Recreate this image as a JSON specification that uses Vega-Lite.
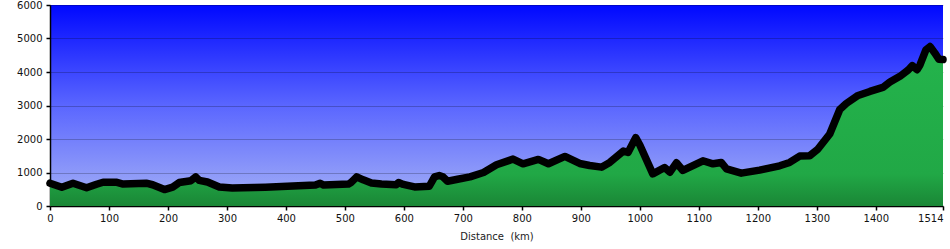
{
  "$schema": "https://vega.github.io/schema/vega-lite/v6.json",
  "width": 893,
  "height": 201,
  "autosize": "none",
  "padding": {"left": 50, "top": 5, "right": 7, "bottom": 43},
  "background": "white",
  "config": {
    "view": {
      "stroke": null,
      "fill": {
        "gradient": "linear", "x1": 0, "y1": 0, "x2": 0, "y2": 1,
        "stops": [
          {"offset": 0, "color": "#0008ff"},
          {"offset": 0.5, "color": "#5a66ff"},
          {"offset": 1, "color": "#a6b2f6"}
        ]
      }
    },
    "axis": {
      "labelFont": "DejaVu Sans",
      "titleFont": "DejaVu Sans",
      "labelFontSize": 10,
      "labelColor": "#111111",
      "domainColor": "#000000",
      "domainWidth": 1.5,
      "tickColor": "#000000",
      "tickWidth": 1.5,
      "tickSize": 4,
      "gridColor": "#000000",
      "gridOpacity": 0.22,
      "gridWidth": 1,
      "format": "d"
    }
  },
  "data": {
    "values": [
      {"km": 0, "elev": 680},
      {"km": 20, "elev": 560},
      {"km": 39, "elev": 680},
      {"km": 62, "elev": 545},
      {"km": 79, "elev": 650},
      {"km": 90, "elev": 710},
      {"km": 112, "elev": 710},
      {"km": 124, "elev": 655},
      {"km": 163, "elev": 680},
      {"km": 174, "elev": 635},
      {"km": 194, "elev": 490},
      {"km": 208, "elev": 565},
      {"km": 219, "elev": 700},
      {"km": 239, "elev": 755},
      {"km": 247, "elev": 870},
      {"km": 253, "elev": 765},
      {"km": 267, "elev": 715},
      {"km": 287, "elev": 565},
      {"km": 309, "elev": 535},
      {"km": 365, "elev": 560},
      {"km": 421, "elev": 605},
      {"km": 450, "elev": 625},
      {"km": 458, "elev": 680},
      {"km": 464, "elev": 625},
      {"km": 506, "elev": 655},
      {"km": 511, "elev": 710},
      {"km": 520, "elev": 870},
      {"km": 531, "elev": 780},
      {"km": 545, "elev": 685},
      {"km": 562, "elev": 655},
      {"km": 587, "elev": 635},
      {"km": 591, "elev": 700},
      {"km": 599, "elev": 645},
      {"km": 618, "elev": 570},
      {"km": 643, "elev": 590},
      {"km": 652, "elev": 870},
      {"km": 660, "elev": 910},
      {"km": 666, "elev": 875},
      {"km": 674, "elev": 740},
      {"km": 691, "elev": 800},
      {"km": 712, "elev": 870},
      {"km": 735, "elev": 1000},
      {"km": 757, "elev": 1230},
      {"km": 785, "elev": 1400},
      {"km": 802, "elev": 1260},
      {"km": 828, "elev": 1390},
      {"km": 845, "elev": 1260},
      {"km": 873, "elev": 1480},
      {"km": 898, "elev": 1270},
      {"km": 915, "elev": 1210},
      {"km": 935, "elev": 1160},
      {"km": 949, "elev": 1300},
      {"km": 972, "elev": 1640},
      {"km": 980, "elev": 1600},
      {"km": 993, "elev": 2040},
      {"km": 1000, "elev": 1820},
      {"km": 1022, "elev": 960},
      {"km": 1042, "elev": 1150},
      {"km": 1051, "elev": 1010},
      {"km": 1062, "elev": 1290},
      {"km": 1073, "elev": 1060},
      {"km": 1107, "elev": 1350},
      {"km": 1124, "elev": 1260},
      {"km": 1138, "elev": 1300},
      {"km": 1147, "elev": 1110},
      {"km": 1172, "elev": 980},
      {"km": 1203, "elev": 1070},
      {"km": 1237, "elev": 1200},
      {"km": 1254, "elev": 1300},
      {"km": 1271, "elev": 1490},
      {"km": 1288, "elev": 1500},
      {"km": 1302, "elev": 1700},
      {"km": 1322, "elev": 2150},
      {"km": 1339, "elev": 2880},
      {"km": 1350, "elev": 3060},
      {"km": 1370, "elev": 3300},
      {"km": 1390, "elev": 3420},
      {"km": 1412, "elev": 3540},
      {"km": 1424, "elev": 3700},
      {"km": 1441, "elev": 3870},
      {"km": 1455, "elev": 4060},
      {"km": 1462, "elev": 4190},
      {"km": 1470, "elev": 4070},
      {"km": 1475, "elev": 4210},
      {"km": 1485, "elev": 4660},
      {"km": 1492, "elev": 4760},
      {"km": 1500, "elev": 4570},
      {"km": 1507, "elev": 4380},
      {"km": 1514, "elev": 4370}
    ]
  },
  "encoding": {
    "x": {
      "field": "km", "type": "quantitative",
      "scale": {"domain": [0, 1514], "nice": false, "zero": true},
      "axis": {
        "values": [0, 100, 200, 300, 400, 500, 600, 700, 800, 900, 1000, 1100, 1200, 1300, 1400, 1514],
        "grid": false,
        "title": "Distance \u00a0(km)",
        "titleFontSize": 10,
        "titleFontWeight": "normal",
        "titleColor": "#222222",
        "titlePadding": 8,
        "labelPadding": 3,
        "labelFlush": false,
        "labelAlign": {"condition": {"test": "datum.value >= 1514", "value": "right"}, "value": "center"}
      }
    },
    "y": {
      "field": "elev", "type": "quantitative",
      "scale": {"domain": [0, 6000], "nice": false},
      "axis": {
        "values": [0, 1000, 2000, 3000, 4000, 5000, 6000],
        "grid": true,
        "title": null,
        "labelPadding": 4
      }
    }
  },
  "layer": [
    {
      "mark": {
        "type": "area",
        "fill": {
          "gradient": "linear", "x1": 0, "y1": 0, "x2": 0, "y2": 1,
          "stops": [
            {"offset": 0, "color": "#24b44c"},
            {"offset": 0.8, "color": "#21a846"},
            {"offset": 1, "color": "#1a8636"}
          ]
        }
      }
    },
    {
      "mark": {"type": "line", "color": "#000000", "strokeWidth": 7.5, "strokeJoin": "round", "strokeCap": "round", "clip": false}
    }
  ]
}
